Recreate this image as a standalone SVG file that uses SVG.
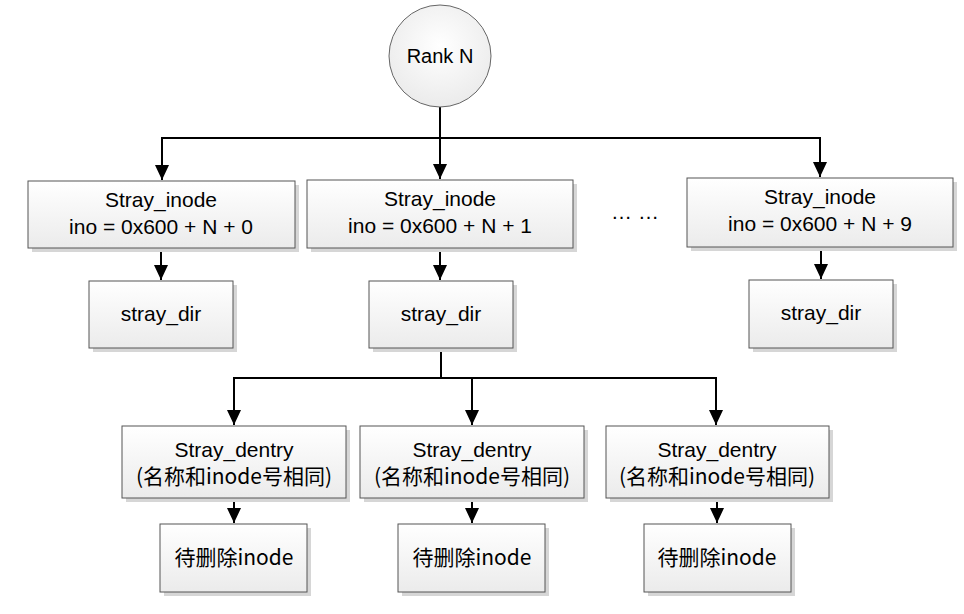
<svg xmlns="http://www.w3.org/2000/svg" width="964" height="614" viewBox="0 0 964 614">
<defs>
<linearGradient id="g" x1="0" y1="0" x2="0" y2="1">
<stop offset="0" stop-color="#ffffff"/>
<stop offset="1" stop-color="#ebebeb"/>
</linearGradient>
<radialGradient id="cg" cx="0.5" cy="0.4" r="0.6">
<stop offset="0" stop-color="#ffffff"/>
<stop offset="1" stop-color="#ebebeb"/>
</radialGradient>
<marker id="ah" markerWidth="15" markerHeight="14" refX="15" refY="7" orient="auto" markerUnits="userSpaceOnUse" viewBox="0 0 15 14">
<path d="M0,0 L15,7 L0,14 Z" fill="#000"/>
</marker>
</defs>
<style>
.box{fill:url(#g);stroke:#555;stroke-width:1}
.sh{fill:#d6d6d6}
.t{font-family:"Liberation Sans","Noto Sans CJK SC",sans-serif;font-size:21px;fill:#000;text-anchor:middle}
.cn{font-family:"Noto Sans CJK SC","Liberation Sans",sans-serif;font-size:21px;fill:#000;text-anchor:middle}
.c{fill:none;stroke:#000;stroke-width:2}
</style>
<rect width="964" height="614" fill="#fff"/>

<g id="connectors">
<path class="c" d="M440,107 V138 H162 V180" marker-end="url(#ah)"/>
<path class="c" d="M440,138 V179" marker-end="url(#ah)"/>
<path class="c" d="M440,138 H820 V177" marker-end="url(#ah)"/>
<path class="c" d="M161,248 V280" marker-end="url(#ah)"/>
<path class="c" d="M440,248 V280" marker-end="url(#ah)"/>
<path class="c" d="M821,247 V279" marker-end="url(#ah)"/>
<path class="c" d="M441,348 V378 H234 V425" marker-end="url(#ah)"/>
<path class="c" d="M441,378 H472 V425" marker-end="url(#ah)"/>
<path class="c" d="M472,378 H716 V425" marker-end="url(#ah)"/>
<path class="c" d="M234,498 V523" marker-end="url(#ah)"/>
<path class="c" d="M472,498 V523" marker-end="url(#ah)"/>
<path class="c" d="M717,498 V523" marker-end="url(#ah)"/>
</g>

<g id="rank">
<circle cx="440" cy="56" r="51" fill="url(#cg)" stroke="#666" stroke-width="1"/>
<text class="t" x="440" y="63" style="font-size:20px">Rank N</text>
</g>

<g id="inode0">
<rect class="sh" x="32" y="185" width="267" height="67"/>
<rect class="box" x="28" y="181" width="267" height="67"/>
<text class="t" x="161" y="207">Stray_inode</text>
<text class="t" x="161" y="234">ino = 0x600 + N + 0</text>
</g>
<g id="inode1">
<rect class="sh" x="311" y="184" width="266" height="68"/>
<rect class="box" x="307" y="180" width="266" height="68"/>
<text class="t" x="440" y="206">Stray_inode</text>
<text class="t" x="440" y="233">ino = 0x600 + N + 1</text>
</g>
<g id="dots">
<text class="t" x="635" y="219">… …</text>
</g>
<g id="inode9">
<rect class="sh" x="691" y="182" width="266" height="69"/>
<rect class="box" x="687" y="178" width="266" height="69"/>
<text class="t" x="820" y="204">Stray_inode</text>
<text class="t" x="820" y="231">ino = 0x600 + N + 9</text>
</g>

<g id="dir0">
<rect class="sh" x="93" y="285" width="144" height="67"/>
<rect class="box" x="89" y="281" width="144" height="67"/>
<text class="t" x="161" y="321">stray_dir</text>
</g>
<g id="dir1">
<rect class="sh" x="373" y="285" width="144" height="67"/>
<rect class="box" x="369" y="281" width="144" height="67"/>
<text class="t" x="441" y="321">stray_dir</text>
</g>
<g id="dir9">
<rect class="sh" x="753" y="284" width="144" height="68"/>
<rect class="box" x="749" y="280" width="144" height="68"/>
<text class="t" x="821" y="320">stray_dir</text>
</g>

<g id="dentry0">
<rect class="sh" x="126" y="430" width="224" height="72"/>
<rect class="box" x="122" y="426" width="224" height="72"/>
<text class="t" x="234" y="457">Stray_dentry</text>
<text class="cn" x="234" y="484">(名称和inode号相同)</text>
</g>
<g id="dentry1">
<rect class="sh" x="364" y="430" width="224" height="72"/>
<rect class="box" x="360" y="426" width="224" height="72"/>
<text class="t" x="472" y="457">Stray_dentry</text>
<text class="cn" x="472" y="484">(名称和inode号相同)</text>
</g>
<g id="dentry2">
<rect class="sh" x="610" y="430" width="223" height="72"/>
<rect class="box" x="606" y="426" width="223" height="72"/>
<text class="t" x="717" y="457">Stray_dentry</text>
<text class="cn" x="717" y="484">(名称和inode号相同)</text>
</g>

<g id="del0">
<rect class="sh" x="164" y="528" width="147" height="68"/>
<rect class="box" x="160" y="524" width="147" height="68"/>
<text class="cn" x="234" y="565">待删除inode</text>
</g>
<g id="del1">
<rect class="sh" x="402" y="528" width="147" height="68"/>
<rect class="box" x="398" y="524" width="147" height="68"/>
<text class="cn" x="472" y="565">待删除inode</text>
</g>
<g id="del2">
<rect class="sh" x="648" y="528" width="147" height="68"/>
<rect class="box" x="644" y="524" width="147" height="68"/>
<text class="cn" x="717" y="565">待删除inode</text>
</g>
</svg>
